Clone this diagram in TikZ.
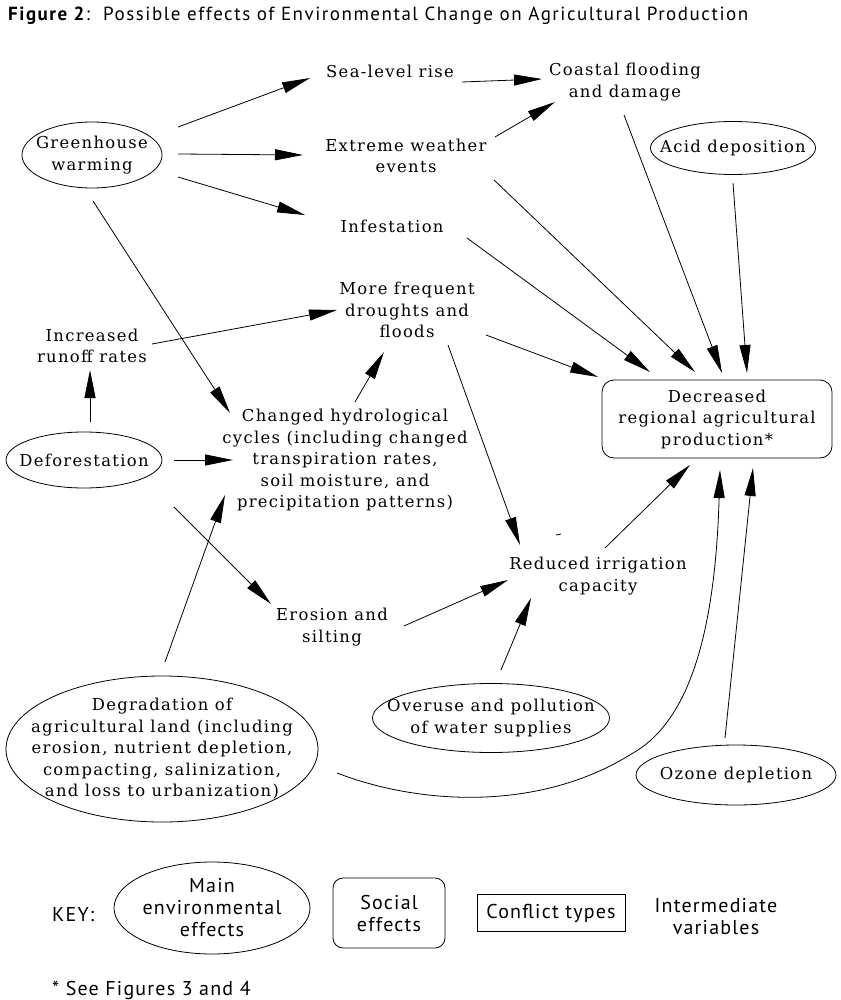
\documentclass[tikz,border=0pt]{standalone}
\usepackage{fontspec}
\setmainfont{DejaVu Serif}
\newfontfamily\mainf[LetterSpace=8]{DejaVu Serif}
\newfontfamily\sansf[LetterSpace=6]{PT Sans}
\newfontfamily\titlef[LetterSpace=8]{PT Sans}
\usetikzlibrary{arrows.meta,calc,shapes.geometric}
\begin{document}
\begin{tikzpicture}[x=1pt,y=-1pt,
  txt/.style={align=center,inner sep=0pt,font=\mainf\fontsize{16.4pt}{21.5pt}\selectfont},
  stxt/.style={align=center,inner sep=0pt,font=\sansf\fontsize{20pt}{22pt}\selectfont},
  arr/.style={line width=0.8pt,-{Triangle[length=28pt,width=11pt]}},
  shp/.style={line width=0.8pt},
]
\useasboundingbox[fill=white] (0,0) rectangle (840,1000);

% title
\node[anchor=base west,inner sep=0pt,font=\titlef\fontsize{19pt}{22pt}\selectfont] (title) at (8,21)
  {\textbf{Figure 2}:\ \ Possible effects of Environmental Change on Agricultural Production};

% nodes
\node[txt] (gw) at (92,155) {Greenhouse\\warming};
\draw[shp] (gw.center) ellipse [x radius=70pt,y radius=33pt];
\node[txt] (slr) at (390,71) {Sea-level rise};
\node[txt] (coast) at (625,82) {Coastal flooding\\and damage};
\node[txt] (ext) at (406,156) {Extreme weather\\events};
\node[txt] (acid) at (733,148) {Acid deposition};
\draw[shp] (acid.center) ellipse [x radius=82.5pt,y radius=26.5pt];
\node[txt] (inf) at (392,226) {Infestation};
\node[txt] (drought) at (407,310) {More frequent\\droughts and\\floods};
\node[txt] (runoff) at (92,346) {Increased\\runoff rates};
\node[txt,draw,shp,rounded corners=12pt,minimum width=230pt,minimum height=78pt] (dec) at (717,419)
  {Decreased\\regional agricultural\\production*};
\node[txt] (defor) at (84,460) {Deforestation};
\draw[shp] (defor.center) ellipse [x radius=78pt,y radius=28pt];
\node[txt] (hydro) at (345,460) {Changed hydrological\\cycles (including changed\\transpiration rates,\\soil moisture, and\\precipitation patterns)};
\node[txt] (irr) at (598,576) {Reduced irrigation\\capacity};
\node[txt] (eros) at (332,627) {Erosion and\\silting};
\node[txt] (overuse) at (491,718) {Overuse and pollution\\of water supplies};
\draw[shp] (overuse.center) ellipse [x radius=118.5pt,y radius=34.5pt];
\node[txt] (degr) at (162,749) {Degradation of\\agricultural land (including\\erosion, nutrient depletion,\\compacting, salinization,\\and loss to urbanization)};
\draw[shp] (degr.center) ellipse [x radius=156pt,y radius=73pt];
\node[txt] (ozone) at (736,775) {Ozone depletion};
\draw[shp] (ozone.center) ellipse [x radius=100pt,y radius=30pt];

% connectors
\draw[arr] ($(gw)+(86,-28)$) -- ($(slr)+(-80,7)$);
\draw[arr] ($(gw)+(86,-1)$) -- ($(ext)+(-103,-1)$);
\draw[arr] ($(gw)+(86,22)$) -- ($(inf)+(-87,-11)$);
\draw[arr] ($(gw)+(1,46)$) -- ($(hydro)+(-115,-47)$);
\draw[arr] ($(slr)+(72,11)$) -- ($(coast)+(-83,-3)$);
\draw[arr] ($(ext)+(89,-19)$) -- ($(coast)+(-70,20)$);
\draw[arr] ($(coast)+(-1,33)$) -- ($(dec)+(5,-46)$);
\draw[arr] ($(acid)+(0,35)$) -- ($(dec)+(30,-46)$);
\draw[arr] ($(ext)+(88,24)$) -- ($(dec)+(-22,-47)$);
\draw[arr] ($(inf)+(75,12)$) -- ($(dec)+(-67,-47)$);
\draw[arr] ($(drought)+(79,25)$) -- ($(dec)+(-119,-42)$);
\draw[arr] ($(runoff)+(60,-2)$) -- ($(drought)+(-70,0)$);
\draw[arr] ($(defor)+(6,-38)$) -- ($(runoff)+(-2,24)$);
\draw[arr] ($(defor)+(90,0)$) -- ($(hydro)+(-112,0)$);
\draw[arr] ($(hydro)+(10,-58)$) -- ($(drought)+(-23,42)$);
\draw[arr] ($(defor)+(90,47)$) -- ($(eros)+(-61,-23)$);
\draw[arr] ($(drought)+(41,35)$) -- ($(irr)+(-78,-31)$);
\draw[arr] ($(eros)+(72,-1)$) -- ($(irr)+(-90,4)$);
\draw[arr] ($(overuse)+(10,-48)$) -- ($(irr)+(-67,22)$);
\draw[arr] ($(irr)+(7,-28)$) -- ($(dec)+(-27,46)$);
\draw[arr] ($(degr)+(3,-87)$) -- ($(hydro)+(-120,35)$);
\draw[arr] ($(degr)+(175,24)$) .. controls (420,805) and (540,812) .. (633,753)
  .. controls (700,715) and (716,600) .. ($(dec)+(3,51)$);
\draw[arr] ($(ozone)+(-11,-37)$) -- ($(dec)+(36,49)$);
\draw[shp] (556,535) -- (561,534);

% key
\node[stxt,anchor=base west] (key) at (52,921) {KEY:};
\node[stxt] (keyell) at (212,908) {Main\\environmental\\effects};
\draw[shp] (keyell.center) ellipse [x radius=98pt,y radius=46pt];
\node[stxt,draw,shp,rounded corners=10pt,minimum width=112pt,minimum height=70pt] (keysoc) at (389,913) {Social\\effects};
\node[stxt,draw,shp,minimum width=148pt,minimum height=37pt] (keycon) at (551,913) {Conflict types};
\node[stxt] (keyint) at (716,917) {Intermediate\\variables};
\node[stxt,anchor=base west] (foot) at (52,995) {* See Figures 3 and 4};
\end{tikzpicture}
\end{document}
